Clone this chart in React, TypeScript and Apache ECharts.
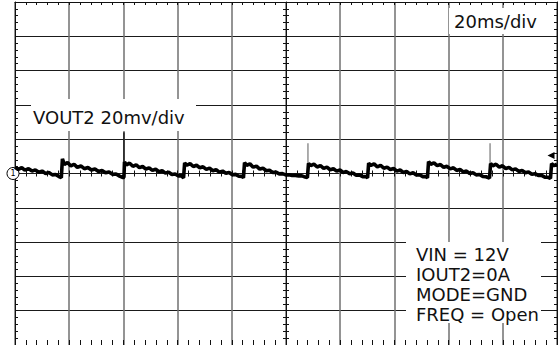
import React, { useEffect, useRef } from "react";
import * as echarts from "echarts";

// Time axis: 20 ms/div, 10 divisions; Voltage axis: 20 mV/div, 10 divisions
const xTicksMs = { min: 0, max: 200, interval: 20 };
const yTicksMv = { min: -100, max: 100, interval: 20 };

// VOUT2 ripple trace [time ms, mV]
const vout2Trace: [number, number][] = [
  [0, 3.6], [1.2, 2.4], [2.5, 3.4], [3.6, 2.0], [5, 2.8], [6.3, 1.4], [7.5, 2.1], [8.8, 0.7], [10, 1.4], [11.3, 0.0], [12.5, 0.6], [13.8, -0.8], [15, -0.6], [16.2, -1.8], [17.1, -2.4],
  [17.3, -2.4], [17.5, 8.6], [18.2, 5.2], [19.4, 6.4], [20.6, 4.4], [21.8, 5.4], [23, 3.6], [24.3, 4.4], [25.6, 2.8], [26.9, 3.5], [28.2, 2.0], [29.5, 2.6], [30.8, 1.2], [32.1, 1.8], [33.4, 0.4], [34.7, 0.9], [36, -0.5], [37.3, -0.3], [38.6, -1.5], [39.9, -2.4],
  [40.2, -2.2], [40.4, 6.8], [41.1, 5.0], [42.3, 6.0], [43.5, 4.2], [44.7, 5.1], [45.9, 3.4], [47.1, 4.1], [48.3, 2.6], [49.5, 3.3], [50.7, 1.8], [51.9, 2.5], [53.1, 1.0], [54.3, 1.6], [55.5, 0.2], [56.7, 0.8], [57.9, -0.6], [59.1, -0.3], [60.3, -1.4], [61.5, -1.4], [62.2, -2.6],
  [62.4, -2.6], [62.6, 6.2], [63.4, 4.8], [64.6, 5.8], [65.8, 4.1], [67, 4.8], [68.2, 3.3], [69.4, 3.9], [70.6, 2.4], [71.8, 3.1], [73, 1.6], [74.2, 2.2], [75.4, 0.8], [76.6, 1.4], [77.8, 0.1], [79, 0.6], [80.2, -0.7], [81.4, -0.5], [82.6, -1.6], [83.8, -1.7], [84.3, -2.5],
  [84.5, -2.5], [84.7, 6.4], [85.5, 4.8], [86.7, 5.6], [87.9, 3.7], [89.1, 4.3], [90.3, 2.6], [91.5, 3.1], [92.7, 1.6], [93.9, 1.9], [95.1, 0.6], [96.3, 0.8], [97.5, -0.2], [98.7, -0.1], [99.9, -0.8], [101.1, -0.7], [102.3, -1.2], [103.5, -1.1], [104.7, -1.4], [105.9, -1.4], [107.1, -2.1], [107.9, -2.4],
  [108.1, -2.4], [108.3, 5.9], [109.1, 4.6], [110.3, 5.5], [111.5, 3.8], [112.7, 4.6], [113.9, 3.0], [115.1, 3.7], [116.3, 2.2], [117.5, 2.8], [118.7, 1.4], [119.9, 2.0], [121.1, 0.6], [122.3, 1.1], [123.5, -0.2], [124.7, 0.3], [125.9, -1.0], [127.1, -0.8], [128.3, -1.8], [129.5, -1.8], [130.1, -2.5],
  [130.3, -2.5], [130.5, 6.0], [131.3, 4.7], [132.5, 5.6], [133.7, 3.9], [134.9, 4.7], [136.1, 3.1], [137.3, 3.7], [138.5, 2.3], [139.7, 2.9], [140.9, 1.4], [142.1, 2.0], [143.3, 0.6], [144.5, 1.2], [145.7, -0.2], [146.9, 0.4], [148.1, -0.9], [149.3, -0.7], [150.5, -1.8], [151.7, -1.8], [152.2, -2.6],
  [152.4, -2.6], [152.6, 7.0], [153.4, 5.4], [154.6, 6.2], [155.8, 4.6], [157, 5.2], [158.2, 3.6], [159.4, 4.2], [160.6, 2.7], [161.8, 3.3], [163, 1.8], [164.2, 2.4], [165.4, 0.9], [166.6, 1.4], [167.8, 0.0], [169, 0.5], [170.2, -0.8], [171.4, -0.6], [172.6, -1.7], [173.8, -1.9], [175.1, -2.7],
  [175.3, -2.7], [175.5, 5.8], [176.3, 4.5], [177.5, 5.4], [178.7, 3.7], [179.9, 4.5], [181.1, 2.9], [182.3, 3.6], [183.5, 2.1], [184.7, 2.7], [185.9, 1.2], [187.1, 1.8], [188.3, 0.4], [189.5, 0.9], [190.7, -0.4], [191.9, -0.1], [193.1, -1.2], [194.3, -1.1], [195.5, -2.1], [196.7, -2.2], [197.6, -2.9],
  [197.8, -2.9], [198.0, 5.8], [198.8, 4.6], [200, 5.4],
];

// Switching spikes [time ms, start mV, peak mV]
const spikeTimes = [40.2, 108.1, 175.3];
const spikeStarts = [6.8, 5.9, 5.8];
const spikePeaks = [24.0, 17.6, 17.6];
const spikeColors = ["#111", "#8a8a8a", "#8a8a8a"];

const triggerLevelMv = 10.5;

const labelTitle = "VOUT2 20mv/div";
const labelTime = "20ms/div";
const conditionLines = ["VIN = 12V", "IOUT2=0A", "MODE=GND", "FREQ = Open"];

const FONT = '"DejaVu Sans", sans-serif';

export default function App() {
  const ref = useRef<HTMLDivElement>(null);
  useEffect(() => {
    if (!ref.current) return;
    const chart = echarts.init(ref.current, undefined, { renderer: "svg" });

    const baseX = {
      type: "value" as const,
      min: xTicksMs.min,
      max: xTicksMs.max,
      interval: xTicksMs.interval,
      axisLabel: { show: false },
    };
    const baseY = {
      type: "value" as const,
      min: yTicksMv.min,
      max: yTicksMv.max,
      interval: yTicksMv.interval,
      axisLabel: { show: false },
    };
    const tickAxis = (len: number, showLine = true) => ({
      axisLine: { show: showLine, onZero: false, lineStyle: { color: "#111", width: 1 } },
      axisTick: { show: true, inside: true, length: len, lineStyle: { color: "#111", width: 1 } },
      minorTick: { show: true, splitNumber: 5, length: len, lineStyle: { color: "#111", width: 1 } },
      splitLine: { show: false },
    });

    const spikeSeries = spikeTimes.map((t, i) => ({
      type: "line" as const,
      xAxisIndex: 0,
      yAxisIndex: 0,
      data: [
        [t, spikeStarts[i]],
        [t, spikePeaks[i]],
      ],
      symbol: "none",
      lineStyle: { color: spikeColors[i], width: 1.4 },
      z: 5,
    }));

    const option: any = {
      animation: false,
      backgroundColor: "#fff",
      grid: { left: 15, right: 1, top: 2, bottom: 0, containLabel: false },
      xAxis: [
        {
          ...baseX,
          position: "bottom",
          ...tickAxis(5),
          splitLine: { show: true, lineStyle: { color: "#707070", width: 1.5 } },
        },
        { ...baseX, position: "top", ...tickAxis(3) },
        { ...baseX, position: "bottom", offset: -171.5, ...tickAxis(3, false) },
        { ...baseX, position: "top", offset: -171.5, ...tickAxis(3, false) },
      ],
      yAxis: [
        {
          ...baseY,
          position: "left",
          ...tickAxis(3),
          splitLine: { show: true, lineStyle: { color: "#1a1a1a", width: 1 } },
        },
        { ...baseY, position: "right", ...tickAxis(3) },
        { ...baseY, position: "left", offset: -271, ...tickAxis(3) },
        { ...baseY, position: "right", offset: -271, ...tickAxis(3, false) },
      ],
      series: [
        {
          type: "line",
          name: "VOUT2",
          xAxisIndex: 0,
          yAxisIndex: 0,
          data: vout2Trace,
          symbol: "none",
          lineStyle: { color: "#000", width: 3.6 },
          z: 6,
          markPoint: {
            silent: true,
            data: [
              {
                coord: [xTicksMs.min, 0],
                symbol: "circle",
                symbolSize: 12,
                symbolOffset: [-2, 0],
                itemStyle: { color: "#fff", borderColor: "#000", borderWidth: 1 },
                label: { show: true, formatter: "1", fontSize: 8, color: "#000", position: "inside", fontFamily: FONT },
              },
              {
                coord: [xTicksMs.max, triggerLevelMv],
                symbol: "triangle",
                symbolRotate: 90,
                symbolSize: [7, 7],
                symbolOffset: [-6, 0],
                itemStyle: { color: "#000" },
                label: { show: false },
              },
            ],
          },
        },
        ...spikeSeries,
      ],
      graphic: [
        { type: "rect", z: 100, shape: { x: 31, y: 99, width: 165, height: 32 }, style: { fill: "#fff" } },
        {
          type: "text", z: 101, x: 33, y: 117,
          style: { text: labelTitle, fontSize: 18, fontFamily: FONT, fill: "#111", verticalAlign: "middle", align: "left" },
        },
        { type: "rect", z: 100, shape: { x: 449, y: 8, width: 95, height: 26 }, style: { fill: "#fff" } },
        {
          type: "text", z: 101, x: 454, y: 21,
          style: { text: labelTime, fontSize: 18, fontFamily: FONT, fill: "#111", verticalAlign: "middle", align: "left" },
        },
        { type: "rect", z: 100, shape: { x: 406, y: 242, width: 135, height: 81 }, style: { fill: "#fff" } },
        ...conditionLines.map((line, i) => ({
          type: "text", z: 101, x: 416, y: 254 + i * 20,
          style: { text: line, fontSize: 18, fontFamily: FONT, fill: "#111", verticalAlign: "middle", align: "left" },
        })),
      ],
    };
    chart.setOption(option);
    return () => chart.dispose();
  }, []);
  return (
    <div
      ref={ref}
      style={{ position: "fixed", left: 0, top: 0, width: 558, height: 345, background: "#fff" }}
    />
  );
}
